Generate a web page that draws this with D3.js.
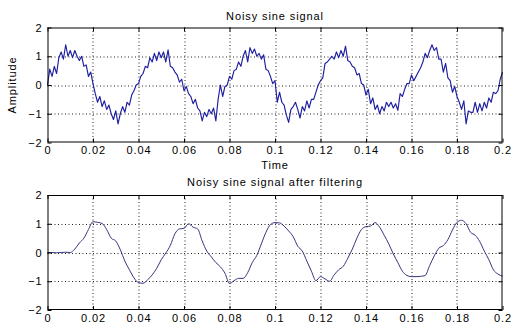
<!DOCTYPE html>
<html>
<head>
<meta charset="utf-8">
<script src="https://cdn.jsdelivr.net/npm/d3@7"></script>
<style>
  body { margin: 0; background: #fff; }
  text { font-family: "Liberation Sans", Arial, sans-serif; font-size: 11px; letter-spacing: 0.9px; fill: #000; }
</style>
</head>
<body>
<div id="chart"></div>
<script>
// noisy signal, one value every 1 ms from 0 to 0.2 s
var noisyValues = [
  0.0, 0.55, 0.3, 0.65, 0.4, 0.95, 1.15, 0.9, 1.4, 1.0,
  1.2, 0.95, 1.2, 1.0, 0.85, 1.0, 0.65, 0.7, 0.3, 0.45,
  0.05, -0.3, -0.6, -0.4, -0.75, -0.55, -0.85, -0.7, -1.0, -1.2,
  -0.9, -1.35, -1.0, -0.75, -0.95, -0.6, -0.7, -0.35, -0.2, 0.0,
  0.05, 0.3, 0.4, 0.65, 0.6, 0.95, 0.8, 1.1, 0.85, 1.15,
  0.95, 1.15, 0.8, 1.22, 0.65, 0.6, 0.45, 0.35, 0.1, 0.2,
  -0.2, -0.05, -0.3, -0.4, -0.65, -0.5, -0.8, -0.9, -1.25, -0.95,
  -1.1, -0.85, -1.0, -0.8, -1.25, -0.5, 0.0, -0.4, -0.05, 0.0,
  0.3, 0.2, 0.5, 0.55, 0.8, 0.65, 1.0, 1.2, 0.8, 1.3,
  1.1, 1.25, 1.0, 1.1, 0.9, 1.05, 0.55, 0.5, 0.3, 0.05,
  0.15, -0.6, -0.25, -0.6, -0.7, -1.05, -1.3, -0.85, -0.75, -0.6,
  -0.85, -1.15, -0.75, -0.9, -0.55, -0.8, -0.5, -0.5, -0.25, 0.0,
  0.15, 0.25, 0.75, 0.8, 0.9, 1.0, 0.9, 1.15, 0.95, 1.2,
  1.0, 1.35, 0.85, 0.8, 0.65, 0.6, 0.35, 0.4, 0.05, 0.0,
  -0.35, -0.15, -0.65, -0.45, -0.85, -0.7, -1.0, -0.75, -0.9, -0.6,
  -0.75, -0.6, -0.8, -0.65, -0.88, -0.3, -0.4, -0.15, 0.05, 0.05,
  0.35, 0.15, 0.3, 0.45, 0.6, 0.8, 1.1, 0.95, 1.2, 1.4,
  1.2, 1.3, 0.9, 0.9, 0.45, 0.75, 0.25, 0.15, -0.25, -0.05,
  -0.4, -0.6, -0.85, -0.55, -1.35, -0.9, -0.95, -0.95, -0.6, -0.95,
  -0.65, -0.9, -0.6, -0.8, -0.45, -0.6, -0.25, -0.3, -0.2, 0.2,
  0.45
];

// filtered signal, one value every 2 ms from 0 to 0.2 s
var filteredValues = [
  0.0, 0.0, -0.01, 0.0, 0.01, 0.0, 0.12, 0.33, 0.5, 0.8,
  1.07, 1.05, 1.01, 0.8, 0.5, 0.4, 0.1, -0.3, -0.6, -0.88,
  -1.05, -1.07, -0.95, -0.78, -0.55, -0.25, -0.02, 0.25, 0.65, 0.82,
  0.84, 1.0, 0.88, 0.82, 0.4, 0.05, -0.15, -0.35, -0.5, -0.72,
  -1.08, -0.98, -0.9, -0.9, -0.7, -0.35, -0.1, 0.3, 0.7, 0.97,
  1.04, 1.03, 0.92, 0.75, 0.55, 0.22, 0.05, -0.3, -0.65, -0.98,
  -0.84, -0.92, -1.0, -0.78, -0.6, -0.48, -0.2, 0.12, 0.5, 0.8,
  0.9, 0.92, 1.04, 0.88, 0.6, 0.3, -0.05, -0.35, -0.65, -0.8,
  -0.84, -0.84, -0.83, -0.8, -0.45, -0.12, 0.15, 0.24, 0.45, 0.78,
  1.05, 1.12, 1.0, 0.7, 0.6, 0.38, 0.05, -0.25, -0.6, -0.75,
  -0.82
];

var xTicks = [0, 0.02, 0.04, 0.06, 0.08, 0.1, 0.12, 0.14, 0.16, 0.18, 0.2];
var yTicks = [-2, -1, 0, 1, 2];
var xTickLabels = ['0', '0.02', '0.04', '0.06', '0.08', '0.1', '0.12', '0.14', '0.16', '0.18', '0.2'];

var panels = [
  {title: 'Noisy sine signal', values: noisyValues, step: 0.001, top: 27.5, color: '#1e1ea0', width: 1.15, xlabel: 'Time', ylabel: 'Amplitude'},
  {title: 'Noisy sine signal after filtering', values: filteredValues, step: 0.002, top: 195, color: '#34347e', width: 1, xlabel: null, ylabel: null}
];

var totalWidth = 511, totalHeight = 326;
var left = 47.5, plotWidth = 455, plotHeight = 115;

var svg = d3.select('#chart').append('svg')
    .attr('width', totalWidth)
    .attr('height', totalHeight);

var x = d3.scaleLinear().domain([0, 0.2]).range([0, plotWidth]);

panels.forEach(function (p) {
    var y = d3.scaleLinear().domain([-2, 2]).range([plotHeight, 0]);

    var g = svg.append('g')
        .attr('transform', 'translate(' + left + ',' + p.top + ')');

    g.append('rect')
        .attr('width', plotWidth)
        .attr('height', plotHeight)
        .attr('fill', '#fff');

    // dotted grid
    g.selectAll('.vgrid')
        .data(xTicks.slice(1, -1))
        .enter().append('line')
        .attr('x1', function (d) { return Math.round(x(d)) + 0.5; })
        .attr('x2', function (d) { return Math.round(x(d)) + 0.5; })
        .attr('y1', 0)
        .attr('y2', plotHeight)
        .attr('stroke', '#222')
        .attr('stroke-dasharray', '1,2.5');

    g.selectAll('.hgrid')
        .data(yTicks.slice(1, -1))
        .enter().append('line')
        .attr('y1', function (d) { return Math.round(y(d)) + 0.5; })
        .attr('y2', function (d) { return Math.round(y(d)) + 0.5; })
        .attr('x1', 0)
        .attr('x2', plotWidth)
        .attr('stroke', '#222')
        .attr('stroke-dasharray', '1,2.5');

    // the signal
    var line = d3.line()
        .x(function (d, i) { return x(i * p.step); })
        .y(function (d) { return y(d); });

    if (p.step > 0.001) line.curve(d3.curveMonotoneX);

    g.append('path')
        .datum(p.values)
        .attr('fill', 'none')
        .attr('stroke', p.color)
        .attr('stroke-width', p.width)
        .attr('stroke-linejoin', 'round')
        .attr('d', line);

    // axes with inward ticks, labels on left and bottom only
    var xAxis = d3.axisBottom(x).tickValues(xTicks)
        .tickFormat(function (d, i) { return xTickLabels[i]; })
        .tickSizeInner(-4).tickSizeOuter(0).tickPadding(4);
    var yAxis = d3.axisLeft(y).tickValues(yTicks)
        .tickFormat(d3.format('d'))
        .tickSizeInner(-4).tickSizeOuter(0).tickPadding(5);

    g.append('g').attr('transform', 'translate(0,' + plotHeight + ')').call(xAxis);
    g.append('g').call(yAxis);
    g.append('g').call(d3.axisTop(x).tickValues(xTicks).tickFormat('').tickSizeInner(-4).tickSizeOuter(0));
    g.append('g').attr('transform', 'translate(' + plotWidth + ',0)')
        .call(d3.axisRight(y).tickValues(yTicks).tickFormat('').tickSizeInner(-4).tickSizeOuter(0));

    g.selectAll('.domain').remove();
    g.selectAll('.tick line').attr('stroke', '#000');
    g.selectAll('.tick text')
        .style('font-family', '"Liberation Sans", Arial, sans-serif')
        .style('font-size', '11px')
        .attr('fill', '#000');

    // frame
    g.append('rect')
        .attr('x', 0.5)
        .attr('y', 0.5)
        .attr('width', plotWidth - 1)
        .attr('height', plotHeight - 1)
        .attr('fill', 'none')
        .attr('stroke', '#000');

    // title
    g.append('text')
        .attr('x', plotWidth / 2)
        .attr('y', p.xlabel ? -8 : -9)
        .attr('text-anchor', 'middle')
        .text(p.title);

    if (p.xlabel) {
        g.append('text')
            .attr('x', plotWidth / 2)
            .attr('y', plotHeight + 26)
            .attr('text-anchor', 'middle')
            .text(p.xlabel);
    }
    if (p.ylabel) {
        g.append('text')
            .attr('transform', 'rotate(-90)')
            .attr('x', -plotHeight / 2)
            .attr('y', -32)
            .attr('text-anchor', 'middle')
            .text(p.ylabel);
    }
});
</script>
</body>
</html>
